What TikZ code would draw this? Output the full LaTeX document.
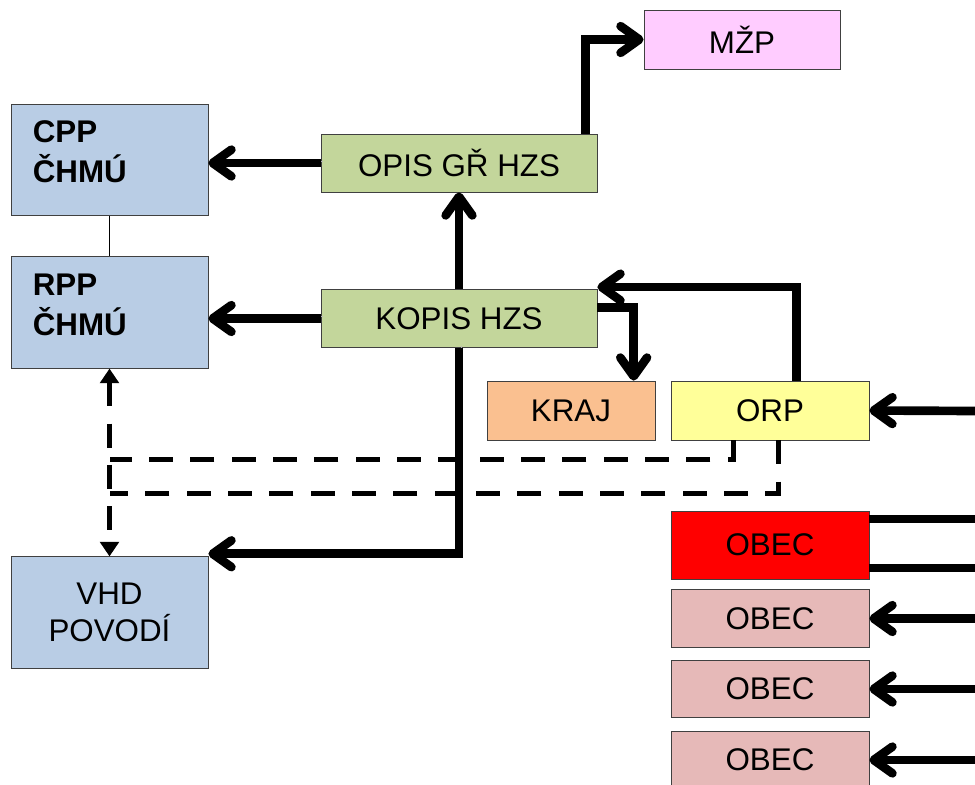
\documentclass[tikz,border=0pt]{standalone}
\usepackage{fontspec}
\setmainfont{Liberation Sans}
\usetikzlibrary{arrows.meta}
\definecolor{chmublue}{RGB}{185,205,229}
\definecolor{hzsgreen}{RGB}{195,214,155}
\definecolor{mzppink}{RGB}{255,204,255}
\definecolor{krajorange}{RGB}{250,192,144}
\definecolor{orpyellow}{RGB}{255,255,153}
\definecolor{obecpink}{RGB}{230,185,184}

\begin{document}
\begin{tikzpicture}[x=0.75pt,y=0.75pt,yscale=-1,xscale=1,
  box/.style={draw=black!75,line width=0.6pt,inner sep=0pt,font=\fontsize{23.5}{28}\selectfont,align=center},
  chmu/.style={box,fill=chmublue,minimum width=147.75pt,minimum height=83.5pt},
  chmutxt/.style={chmu,align=left,text width=115pt,font=\fontsize{23.5}{30}\selectfont\bfseries},
  hzs/.style={box,fill=hzsgreen,minimum width=207pt,minimum height=43.5pt},
  obec/.style={box,fill=obecpink,minimum width=148.5pt,minimum height=43pt},
  stin/.style={preaction={draw=gray!55,transform canvas={xshift=1.5pt,yshift=1.5pt}}},
  tok/.style={line width=6.5pt,stin,-{Straight Barb[length=14pt,width=20pt,round]}},
  tah/.style={line width=6.5pt,stin},
  vazba/.style={line width=3.75pt,dash pattern=on 18pt off 13pt},
  hrot/.style={{Triangle[length=11pt,width=14pt]}-{Triangle[length=11pt,width=14pt]}}
]
\useasboundingbox (0,0) rectangle (975,785);

% boxes
\node[box,fill=mzppink,minimum width=147pt,minimum height=44.25pt] (mzp) at (742,39.5) {MŽP};
\node[chmutxt] (cpp) at (109.5,160) {CPP\\ČHMÚ\\[-18pt]\mbox{}};
\node[chmutxt] (rpp) at (109.5,312.5) {RPP\\ČHMÚ\\[-18pt]\mbox{}};
\node[chmu] (vhd) at (109.5,612.5) {VHD\\POVODÍ};
\node[hzs] (opis) at (459,163) {OPIS GŘ HZS};
\node[hzs] (kopis) at (459,318.5) {KOPIS HZS};
\node[box,fill=krajorange,minimum width=126pt,minimum height=44.25pt] (kraj) at (571,410.5) {KRAJ};
\node[box,fill=orpyellow,minimum width=148.5pt,minimum height=44.25pt] (orp) at (770,410.5) {ORP};
\node[box,fill=red,minimum width=148.5pt,minimum height=51pt] (obec0) at (770,545) {OBEC};
\node[obec] (obec1) at (770,618.5) {OBEC};
\node[obec] (obec2) at (770,689) {OBEC};
\node[obec] (obec3) at (770,760) {OBEC};

% free ends at the right edge
\coordinate (e0) at (975,411);
\coordinate (e1) at (975,519);
\coordinate (e2) at (975,568);
\coordinate (e3) at (975,618.5);
\coordinate (e4) at (975,689);
\coordinate (e5) at (975,760);
\coordinate (d1) at (109.5,459);
\coordinate (d2) at (109.5,493);

% thin link
\draw[line width=0.6pt] (cpp.south) -- (rpp.north);

% dashed links
\draw[vazba,hrot] (rpp.south) -- (vhd.north);
\draw[vazba] ([xshift=-27.75pt]orp.south) |- (d1);
\draw[vazba] ([xshift=6pt]orp.south) |- (d2);

% thick arrows
\draw[tok] (opis.west) -- (opis.west -| cpp.east);
\draw[tok] (kopis.west) -- (kopis.west -| rpp.east);
\draw[tok] (kopis.north) -- (opis.south);
\draw[tok] (kopis.south) |- ([yshift=-2pt]vhd.north east);
\draw[tok] ([xshift=-9pt]opis.north east) |- (mzp.west);
\draw[tok] ([xshift=20pt]orp.north) |- ([yshift=-1.5pt]kopis.north east);
\draw[tok] ([yshift=-8.5pt]kopis.east) -| ([xshift=47pt]kraj.north);
\draw[tok] (e0) -- (orp.east);
\draw[tah] (e1) -- (e1 -| obec0.east);
\draw[tah] (e2) -- (e2 -| obec0.east);
\draw[tok] (e3) -- (obec1.east);
\draw[tok] (e4) -- (obec2.east);
\draw[tok] (e5) -- (obec3.east);
\end{tikzpicture}
\end{document}
